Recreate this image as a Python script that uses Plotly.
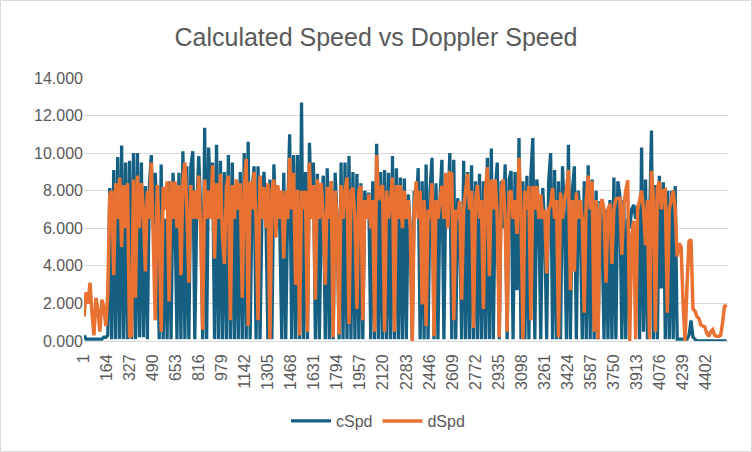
import plotly.graph_objects as go

# sample positions along the category axis (record numbers)
sample_idx = list(range(1, 4561, 14))

cSpd = [
    0.3, 0.1, 0.1, 0.1, 0.1, 0.1, 0.1, 0.1, 0.1, 0.1, 0.2, 0.2, 0.3,
    8.15, 0.1, 9.1, 0.1, 9.8, 0.1, 10.4, 0.1, 9.5, 0.1, 9.6, 0.1, 10.0, 0.1, 10.0, 0.2, 9.5, 0.2,
    8.25, 0.1, 8.2, 9.9, 6.0, 8.95, 6.5, 0.1, 9.4, 0.1, 6.5, 0.1, 8.5, 0.1, 8.95, 6.5, 0.1, 8.95,
    0.1, 10.1, 0.1, 9.3, 0.1,
    9.3, 10.1, 0.1, 7.0, 9.85, 7.0, 0.1, 11.35, 0.1, 10.3, 7.5, 9.5, 0.1, 10.45, 0.1, 9.6, 0.1, 9.0,
    0.1, 9.9, 0.1, 9.5, 0.1, 8.0, 0.1, 9.0, 0.1, 10.0, 0.1, 10.6, 0.1, 8.0, 9.3, 0.1, 9.3, 0.1,
    7.0, 9.0, 6.5, 0.1, 8.6, 0.1, 9.4, 6.5, 8.15, 6.0, 0.1, 8.95, 0.1, 7.0, 11.0, 0.1, 9.9, 0.1,
    9.9, 0.1, 12.7, 0.1, 9.0, 0.1, 10.55, 7.0, 9.5, 0.1, 8.9, 0.1, 7.0, 8.8, 0.1, 9.2, 0.1, 8.5,
    0.1, 8.95, 6.5, 0.1, 9.5, 0.1, 9.5, 0.1, 9.85, 0.1, 9.0, 0.1, 8.9, 0.1, 8.4, 0.1, 8.0, 6.5,
    7.9, 0.1, 8.5, 0.1, 10.5, 0.1, 9.0, 0.1, 9.1, 0.1, 8.95, 0.1, 9.85, 0.1, 9.2, 0.1, 8.7, 0.1,
    8.65, 0.1, 7.8, 6.0, 0.1, 8.0, 7.0, 9.2, 0.1, 8.5, 0.1, 9.4, 0.1, 8.0, 9.75, 0.1, 8.4, 0.1,
    7.5, 9.65, 0.1, 8.5, 6.5, 10.0, 0.1, 9.65, 0.1, 7.6, 6.0, 0.1, 9.6, 0.1, 9.0, 0.1, 9.35, 0.1,
    8.5, 0.1, 8.9, 0.1, 8.5, 0.1, 9.75, 0.1, 10.25, 0.1, 8.0, 9.5, 0.1, 8.5, 6.0, 9.4, 0.1, 8.6,
    9.05, 0.1, 9.0, 2.7, 10.8, 0.1, 8.5, 0.1, 8.8, 0.1, 8.85, 10.8, 0.1, 8.6, 7.0, 0.1, 8.15, 6.0,
    0.1, 8.5, 10.0, 0.1, 9.1, 0.1, 8.5, 0.1, 9.3, 6.5, 0.1, 10.45, 0.1, 8.0, 9.3, 0.1, 8.0, 6.5,
    0.1, 8.5, 0.1, 9.35, 0.1, 8.6, 0.1, 8.0, 0.1, 7.45, 6.0, 0.1, 7.0, 0.1, 7.5, 0.1, 8.7, 0.1, 8.5,
    7.75, 0.1, 7.5, 0.1, 6.5, 6.0, 7.0, 7.25, 6.5, 7.2, 0.1, 10.3, 0.5, 8.6, 0.1, 6.0, 11.2, 0.1,
    8.3, 0.1, 8.8, 2.8, 8.45, 0.1, 8.0, 0.1, 8.0, 0.1, 8.25, 0.1, 0.1, 0.1, 0.1, 0.1, 0.1, 0.3,
    1.1, 0.2, 0.1,
    0, 0, 0, 0, 0, 0, 0, 0, 0, 0, 0, 0, 0, 0, 0, 0,
]

dSpd = [
    1.3, 2.6, 2.0, 3.1, 1.5, 0.3, 2.3, 1.6, 0.5, 2.2, 1.8, 0.8, 2.5,
    7.8, 8.0, 3.5, 8.4, 6.5, 8.7, 5.0, 8.3, 6.0, 8.4, 0.2, 0.3, 8.6, 2.3, 8.8, 6.0, 8.4, 7.0,
    3.7, 8.0, 6.5, 9.5, 5.5, 1.1, 8.3, 6.0, 0.5, 8.2, 7.0, 8.5, 2.1, 8.5, 6.5, 8.5, 6.0, 8.3,
    3.5, 8.5, 9.5, 7.0, 3.1,
    8.3, 6.5, 8.0, 6.5, 8.8, 6.0, 0.6, 8.6, 6.5, 8.0, 6.5, 9.35, 4.4, 8.4, 6.5, 8.9, 5.5, 4.1,
    8.2, 8.8, 1.1, 8.3, 6.5, 8.6, 7.0, 8.4, 2.3, 8.0, 9.7, 0.8, 8.5, 7.0, 9.0, 6.5, 1.1, 8.8,
    6.5, 8.2, 6.0, 8.4, 0.1, 8.0, 8.6, 5.5, 8.3, 6.5, 8.0, 4.4, 8.0, 6.5, 9.75, 7.0, 8.95, 3.0,
    8.05, 0.3, 8.0, 7.0, 8.0, 0.5, 9.5, 6.5, 8.3, 2.2, 8.6, 6.5, 8.4, 6.5, 3.0, 8.2, 6.5, 8.5,
    0.2, 8.0, 6.5, 0.35, 8.3, 6.5, 8.0, 8.7, 0.9, 8.0, 8.15, 6.5, 1.7, 8.0, 8.25, 1.1, 7.5, 6.5,
    7.8, 6.0, 7.5, 0.5, 9.9, 7.5, 8.0, 8.3, 0.5, 8.0, 6.5, 7.5, 8.7, 0.5, 8.3, 6.5, 8.3, 6.0,
    8.0, 6.5, 7.5, 6.0, 0.0, 7.0, 8.5, 6.5, 8.0, 1.95, 7.5, 0.8, 7.0, 6.5, 8.4, 0.25, 7.5, 6.5,
    7.5, 8.25, 6.5, 8.95, 6.0, 8.95, 8.9, 1.1, 7.0, 6.5, 7.45, 2.2, 7.0, 8.0, 8.9, 7.0, 8.0, 0.7,
    7.5, 8.3, 6.5, 7.5, 1.7, 8.0, 9.25, 3.45, 8.6, 7.0, 8.6, 6.5, 0.2, 8.0, 8.6, 6.5, 0.5, 7.9,
    8.0, 6.5, 7.5, 5.7, 9.75, 7.0, 0.1, 8.0, 7.0, 8.25, 1.1, 8.25, 7.0, 8.25, 6.5, 7.8, 6.5, 7.0,
    3.6, 7.0, 7.25, 8.15, 6.5, 7.5, 0.2, 7.9, 6.5, 7.5, 8.0, 9.1, 2.7, 7.5, 3.7, 7.9, 6.5, 7.5,
    6.5, 1.5, 7.5, 8.8, 7.0, 8.5, 0.5, 7.5, 0.1, 7.0, 7.55, 7.0, 3.1, 7.0, 7.3, 4.1, 7.0, 7.55, 7.6,
    7.6, 4.6, 7.2, 8.0, 8.55, 0.0, 5.5, 6.4, 0.1, 7.0, 7.5, 8.0, 7.0, 5.1, 7.5, 0.1, 9.05, 7.5,
    0.5, 8.15, 8.5, 7.0, 8.0, 8.05, 1.5, 7.0, 7.5, 8.0, 7.0, 4.5, 5.2, 5.0, 2.0, 0.0, 3.0, 5.3,
    5.4, 1.7, 1.6, 1.3, 1.2, 0.85, 0.8, 0.75, 0.4, 0.25, 0.5, 0.6, 0.3, 0.25, 0.25, 0.3, 1.0,
    1.9, 1.8,
]

assert len(cSpd) == len(sample_idx), (len(cSpd), len(sample_idx))
assert len(dSpd) == len(sample_idx), (len(dSpd), len(sample_idx))

x_tick_vals = list(range(1, 4561, 163))
x_tick_text = [str(v) for v in x_tick_vals]
y_tick_vals = [0, 2, 4, 6, 8, 10, 12, 14]

BLUE = "#156082"
ORANGE = "#E97132"
TXT = "#595959"
GRID = "#D9D9D9"
FONT = "Liberation Sans, Arial, sans-serif"

fig = go.Figure()
fig.add_trace(go.Scatter(x=sample_idx, y=cSpd, mode="lines", name="cSpd",
                         line=dict(color=BLUE, width=3.3, simplify=False)))
fig.add_trace(go.Scatter(x=sample_idx, y=dSpd, mode="lines", name="dSpd",
                         line=dict(color=ORANGE, width=3.5, simplify=False)))

L, R, T, B = 84, 24, 78, 111
W, H = 752, 452
pw, ph = W - L - R, H - T - B

fig.update_layout(
    width=W, height=H,
    margin=dict(l=L, r=R, t=T, b=B),
    paper_bgcolor="white", plot_bgcolor="white",
    font=dict(family=FONT, color=TXT, size=16),
    title=dict(text="Calculated Speed vs Doppler Speed", x=0.5, xanchor="center",
               xref="container", y=1 - 37 / H, yref="container", yanchor="middle",
               font=dict(size=25, color=TXT, family=FONT)),
    showlegend=True,
    legend=dict(orientation="h", x=(378 - L) / pw, xanchor="center", y=-(421 - (T + ph)) / ph,
                yanchor="middle", font=dict(size=16, color=TXT), itemwidth=40),
    shapes=[dict(type="rect", xref="paper", yref="paper",
                 x0=(0.5 - L) / pw, x1=(W - 0.5 - L) / pw,
                 y0=-(B - 0.5) / ph, y1=1 + (T - 0.5) / ph,
                 line=dict(color=GRID, width=1), fillcolor="rgba(0,0,0,0)", layer="below")],
)
fig.update_xaxes(range=[0.5, 4561], tickmode="array", tickvals=x_tick_vals, ticktext=x_tick_text,
                 tickangle=-90, showgrid=False, zeroline=False, showline=True,
                 linecolor=GRID, linewidth=1, ticks="", ticklabelstandoff=6,
                 tickfont=dict(size=16, color=TXT))
fig.update_yaxes(range=[0, 14], tickmode="array", tickvals=y_tick_vals, tickformat=".3f",
                 showgrid=True, gridcolor=GRID, gridwidth=1, zeroline=False, showline=False,
                 ticks="", tickfont=dict(size=16, color=TXT))

fig.write_html("out.html", config={"displayModeBar": False},
               post_script="document.body.style.margin='0';")
